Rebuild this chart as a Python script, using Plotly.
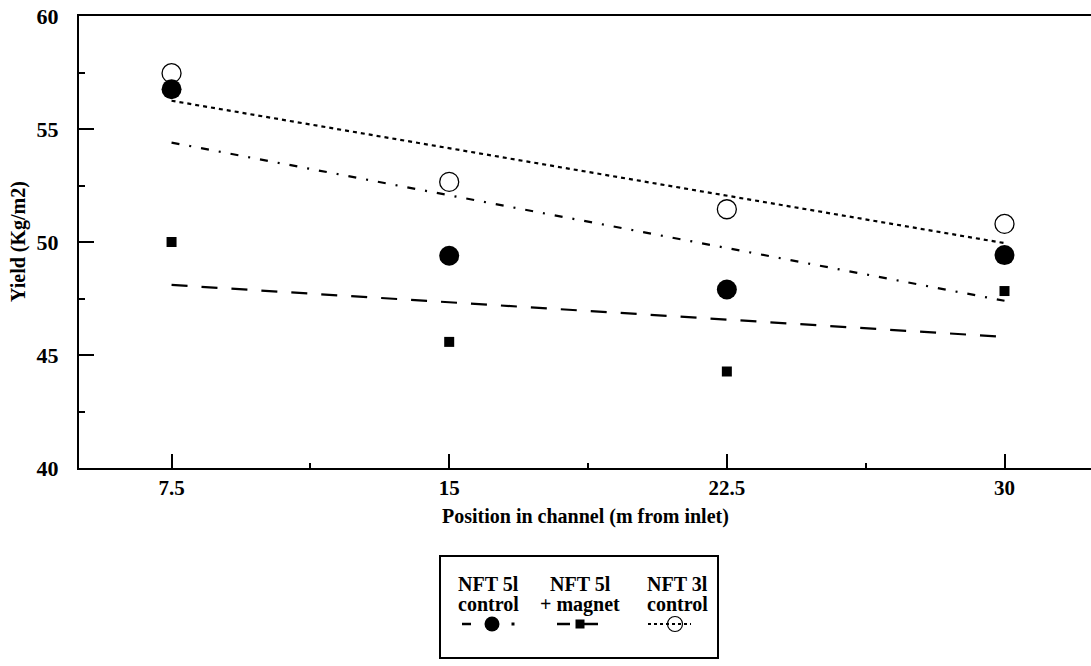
import plotly.graph_objects as go

# ---- data ----
positions = [7.5, 15, 22.5, 30]
tick_labels = ["7.5", "15", "22.5", "30"]
nft5_control = [56.76, 49.39, 47.9, 49.42]      # filled circles
nft5_magnet = [50.0, 45.58, 44.27, 47.83]       # squares
nft3_control = [57.47, 52.66, 51.45, 50.8]      # open circles
trend_x = [7.5, 30]
trend_nft5_control = [54.4, 47.4]               # dash-dot line
trend_nft5_magnet = [48.1, 45.8]                # dashed line
trend_nft3_control = [56.25, 49.95]             # dotted line
y_ticks = [40, 45, 50, 55, 60]

FONT = "Liberation Serif"
BLACK = "black"

fig = go.Figure()

# trend lines
fig.add_trace(go.Scatter(x=trend_x, y=trend_nft3_control, mode="lines",
                         line=dict(color=BLACK, width=2.2, dash="4px,4px"), showlegend=False))
fig.add_trace(go.Scatter(x=trend_x, y=trend_nft5_control, mode="lines",
                         line=dict(color=BLACK, width=2.2, dash="8px,10px,2px,10px"), showlegend=False))
fig.add_trace(go.Scatter(x=trend_x, y=trend_nft5_magnet, mode="lines",
                         line=dict(color=BLACK, width=2.2, dash="16px,14px"), showlegend=False))

# markers
fig.add_trace(go.Scatter(x=positions, y=nft3_control, mode="markers",
                         marker=dict(symbol="circle-open", size=19, color=BLACK, line=dict(width=1.3)),
                         showlegend=False))
fig.add_trace(go.Scatter(x=positions, y=nft5_control, mode="markers",
                         marker=dict(symbol="circle", size=20, color=BLACK), showlegend=False))
fig.add_trace(go.Scatter(x=positions, y=nft5_magnet, mode="markers",
                         marker=dict(symbol="square", size=10, color=BLACK), showlegend=False))

# ---- legend box drawn on an auxiliary axis (local pixel units) ----
LEG_W, LEG_H = 276, 100
SYM_Y = 33
fig.add_trace(go.Scatter(x=[21, 30], y=[SYM_Y, SYM_Y], mode="lines", line=dict(color=BLACK, width=2.5),
                         xaxis="x2", yaxis="y2", showlegend=False))
fig.add_trace(go.Scatter(x=[72], y=[SYM_Y], mode="markers", marker=dict(symbol="square", size=3, color=BLACK),
                         xaxis="x2", yaxis="y2", showlegend=False))
fig.add_trace(go.Scatter(x=[51], y=[SYM_Y], mode="markers", marker=dict(symbol="circle", size=15, color=BLACK),
                         xaxis="x2", yaxis="y2", showlegend=False))
fig.add_trace(go.Scatter(x=[116, 129], y=[SYM_Y, SYM_Y], mode="lines", line=dict(color=BLACK, width=2.5),
                         xaxis="x2", yaxis="y2", showlegend=False))
fig.add_trace(go.Scatter(x=[142, 157], y=[SYM_Y, SYM_Y], mode="lines", line=dict(color=BLACK, width=2.5),
                         xaxis="x2", yaxis="y2", showlegend=False))
fig.add_trace(go.Scatter(x=[139], y=[SYM_Y], mode="markers", marker=dict(symbol="square", size=9, color=BLACK),
                         xaxis="x2", yaxis="y2", showlegend=False))
fig.add_trace(go.Scatter(x=[207, 250], y=[SYM_Y, SYM_Y], mode="lines", line=dict(color=BLACK, width=2, dash="3px,3px"),
                         xaxis="x2", yaxis="y2", showlegend=False))
fig.add_trace(go.Scatter(x=[234], y=[SYM_Y], mode="markers",
                         marker=dict(symbol="circle-open", size=15, color=BLACK, line=dict(width=1.2)),
                         xaxis="x2", yaxis="y2", showlegend=False))

legend_cols = [47, 139, 236]
legend_line1 = ["NFT 5l", "NFT 5l", "NFT 3l"]
legend_line2 = ["control", "+ magnet", "control"]
annotations = []
for cx, t1, t2 in zip(legend_cols, legend_line1, legend_line2):
    annotations.append(dict(x=cx, y=73, xref="x2", yref="y2", text=f"<b>{t1}</b>", showarrow=False,
                            font=dict(family=FONT, size=20, color=BLACK)))
    annotations.append(dict(x=cx, y=53, xref="x2", yref="y2", text=f"<b>{t2}</b>", showarrow=False,
                            font=dict(family=FONT, size=20, color=BLACK)))

# geometry
W, H = 1091, 666
ML, MR, MT, MB = 79, 0, 16, 0
ph = H - MT - MB
main_bottom_px = 468
plot_h = main_bottom_px - MT
leg_top_px, leg_bot_px = 557, 657
leg_left_px, leg_right_px = 441, 717
pw = W - ML - MR

# axis titles
annotations.append(dict(x=0.5, y=(main_bottom_px - 516) / plot_h, xref="x domain", yref="y domain",
                        xanchor="center", yanchor="middle",
                        text="<b>Position in channel (m from inlet)</b>", showarrow=False,
                        font=dict(family=FONT, size=20, color=BLACK)))
annotations.append(dict(x=(18 - ML) / pw, y=(main_bottom_px - 242) / plot_h, xref="paper", yref="y domain",
                        xanchor="center", yanchor="middle",
                        text="<b>Yield (Kg/m2)</b>", showarrow=False, textangle=-90,
                        font=dict(family=FONT, size=20, color=BLACK)))

fig.update_layout(
    width=W, height=H,
    margin=dict(l=ML, r=MR, t=MT, b=MB, autoexpand=False),
    paper_bgcolor="white", plot_bgcolor="white",
    font=dict(family=FONT, color=BLACK),
    xaxis=dict(range=[5, 5 + pw / 37.02], domain=[0, 1], anchor="y", automargin=False,
               tickvals=positions, ticktext=[f"<b>{t}</b>" for t in tick_labels],
               ticks="inside", ticklen=14, tickwidth=1.5, tickcolor=BLACK,
               minor=dict(tickvals=[11.25, 18.75, 26.25], ticks="inside", ticklen=5, tickcolor=BLACK),
               showline=True, linecolor=BLACK, linewidth=2, mirror=True,
               showgrid=False, zeroline=False, ticklabelstandoff=0,
               tickfont=dict(family=FONT, size=21, color=BLACK)),
    yaxis=dict(range=[40, 60], domain=[(H - main_bottom_px) / ph, 1], anchor="x", automargin=False,
               tickvals=y_ticks, ticktext=[f"<b>{v}</b>" for v in y_ticks],
               ticks="inside", ticklen=15, tickwidth=1.5, tickcolor=BLACK,
               minor=dict(dtick=2.5, ticks="inside", ticklen=6, tickcolor=BLACK),
               showline=True, linecolor=BLACK, linewidth=2, mirror=False,
               showgrid=False, zeroline=False, ticklabelstandoff=14,
               tickfont=dict(family=FONT, size=22, color=BLACK)),
    xaxis2=dict(range=[0, LEG_W], domain=[(leg_left_px - ML) / pw, (leg_right_px - ML) / pw],
                anchor="y2", showline=True, mirror=True, linecolor=BLACK, linewidth=1.5, automargin=False,
                showticklabels=False, ticks="", showgrid=False, zeroline=False, fixedrange=True),
    yaxis2=dict(range=[0, LEG_H], domain=[(H - leg_bot_px) / ph, (H - leg_top_px) / ph],
                anchor="x2", showline=True, mirror=True, linecolor=BLACK, linewidth=1.5, automargin=False,
                showticklabels=False, ticks="", showgrid=False, zeroline=False, fixedrange=True),
    annotations=annotations,
    showlegend=False,
)

fig.write_html("out.html", config={"displayModeBar": False},
               post_script="document.body.style.margin='0';document.body.style.overflow='hidden';")
